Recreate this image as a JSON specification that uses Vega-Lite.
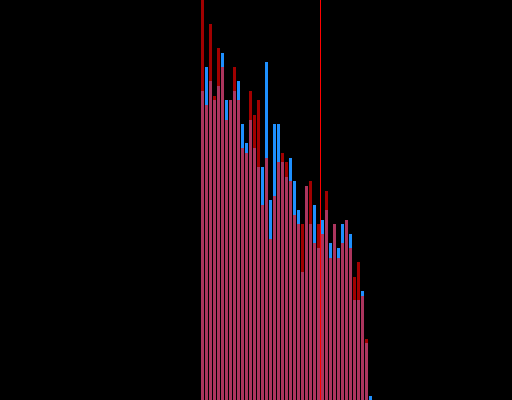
{
  "$schema": "https://vega.github.io/schema/vega-lite/v6.json",
  "width": 512,
  "height": 400,
  "autosize": {"type": "none"},
  "padding": 0,
  "background": "#000000",
  "config": {"view": {"stroke": null}},
  "datasets": {
    "hist": [
      {"bin": 0, "blue": 309, "red": 400},
      {"bin": 1, "blue": 333, "red": 295},
      {"bin": 2, "blue": 319, "red": 376},
      {"bin": 3, "blue": 300, "red": 304},
      {"bin": 4, "blue": 314, "red": 352},
      {"bin": 5, "blue": 347, "red": 333},
      {"bin": 6, "blue": 300, "red": 280},
      {"bin": 7, "blue": 300, "red": 300},
      {"bin": 8, "blue": 309, "red": 333},
      {"bin": 9, "blue": 319, "red": 300},
      {"bin": 10, "blue": 276, "red": 252},
      {"bin": 11, "blue": 257, "red": 247},
      {"bin": 12, "blue": 280, "red": 309},
      {"bin": 13, "blue": 252, "red": 285},
      {"bin": 14, "blue": 233, "red": 300},
      {"bin": 15, "blue": 233, "red": 195},
      {"bin": 16, "blue": 338, "red": 242},
      {"bin": 17, "blue": 200, "red": 161},
      {"bin": 18, "blue": 276, "red": 204},
      {"bin": 19, "blue": 276, "red": 238},
      {"bin": 20, "blue": 238, "red": 247},
      {"bin": 21, "blue": 223, "red": 238},
      {"bin": 22, "blue": 242, "red": 219},
      {"bin": 23, "blue": 219, "red": 185},
      {"bin": 24, "blue": 190, "red": 176},
      {"bin": 25, "blue": 128, "red": 176},
      {"bin": 26, "blue": 214, "red": 214},
      {"bin": 27, "blue": 176, "red": 219},
      {"bin": 28, "blue": 195, "red": 157},
      {"bin": 29, "blue": 152, "red": 176},
      {"bin": 30, "blue": 180, "red": 166},
      {"bin": 31, "blue": 190, "red": 209},
      {"bin": 32, "blue": 157, "red": 142},
      {"bin": 33, "blue": 176, "red": 176},
      {"bin": 34, "blue": 152, "red": 142},
      {"bin": 35, "blue": 176, "red": 157},
      {"bin": 36, "blue": 180, "red": 180},
      {"bin": 37, "blue": 166, "red": 152},
      {"bin": 38, "blue": 100, "red": 123},
      {"bin": 39, "blue": 100, "red": 138},
      {"bin": 40, "blue": 109, "red": 104},
      {"bin": 41, "blue": 57, "red": 61},
      {"bin": 42, "blue": 4, "red": 0}
    ],
    "marker": [{"value": 30.125}]
  },
  "layer": [
    {
      "data": {"name": "hist"},
      "transform": [{"calculate": "datum.bin + 1", "as": "bin_end"}],
      "mark": {"type": "bar", "color": "#1e90ff", "binSpacing": 1},
      "encoding": {
        "x": {"field": "bin", "type": "quantitative", "bin": {"binned": true, "step": 1}, "scale": {"domain": [-50, 78], "nice": false, "zero": false}, "axis": null},
        "x2": {"field": "bin_end"},
        "y": {"field": "blue", "type": "quantitative", "scale": {"domain": [0, 400], "nice": false}, "axis": null}
      }
    },
    {
      "data": {"name": "hist"},
      "transform": [{"calculate": "datum.bin + 1", "as": "bin_end"}],
      "mark": {"type": "bar", "color": "#ff0000", "opacity": 0.63, "binSpacing": 1},
      "encoding": {
        "x": {"field": "bin", "type": "quantitative", "bin": {"binned": true, "step": 1}, "axis": null},
        "x2": {"field": "bin_end"},
        "y": {"field": "red", "type": "quantitative", "axis": null}
      }
    },
    {
      "data": {"name": "marker"},
      "mark": {"type": "rule", "color": "#ff0000", "strokeWidth": 1},
      "encoding": {
        "x": {"field": "value", "type": "quantitative"}
      }
    }
  ]
}
